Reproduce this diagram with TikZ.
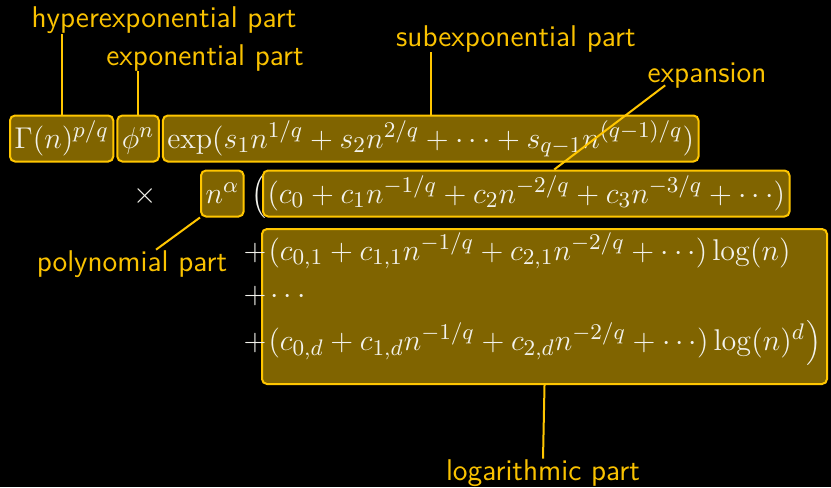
\documentclass[tikz,border=0pt]{standalone}
\usetikzlibrary{positioning,calc}

\definecolor{partline}{RGB}{255,198,0}
\definecolor{partfill}{RGB}{128,100,0}
\definecolor{labelcol}{RGB}{250,194,0}
\definecolor{formulacol}{RGB}{242,242,236}

\tikzset{
  part/.style={draw=partline, fill=partfill, line width=0.8pt, rounded corners=2pt,
               text=formulacol, inner xsep=1.8pt, inner ysep=0pt, anchor=base west,
               text height=13pt, text depth=5.4pt},
  formula/.style={text=formulacol, inner sep=0pt, anchor=base west},
  partlabel/.style={text=labelcol, font=\fontsize{12}{14}\sffamily, inner sep=0pt, anchor=base},
  pointer/.style={draw=partline, line width=0.8pt},
}

\begin{document}
\begin{tikzpicture}[x=0.4pt,y=-0.4pt,font=\fontsize{12.2}{14.5}\selectfont]
  \fill[black] (0,0) rectangle (831,487);
  \useasboundingbox (0,0) rectangle (831,487);

  % first line
  \node[part] (hyper) at (9,148) {$\Gamma(n)^{p/q}$};
  \node[part, right=0.8pt of hyper] (expo) {$\phi^n$};
  \node[part, right=0.8pt of expo] (subexp)
    {$\exp\bigl(s_1n^{1/q}+s_2n^{2/q}+\cdots+s_{q-1}n^{(q-1)/q}\bigr)$};

  % second line
  \node[formula, anchor=base] (times) at (145,203) {$\times$};
  \node[part] (poly) at (200,203) {$n^\alpha$};
  \node[formula, text height=12pt, text depth=7pt] (outeropen) at (251,203) {$\Bigl($};
  \node[part] (expan) at (262,203)
    {$\bigl(c_0+c_1n^{-1/q}+c_2n^{-2/q}+c_3n^{-3/q}+\cdots\bigr)$};

  % logarithmic block
  \node[part, anchor=north west, minimum width=226pt, minimum height=62pt,
        inner sep=0pt, text height=, text depth=] (logpart) at (261,228) {};
  \node[formula] (plusA) at (243,260) {$+$};
  \node[formula] (logrowA) at (268,260)
    {$\bigl(c_{0,1}+c_{1,1}n^{-1/q}+c_{2,1}n^{-2/q}+\cdots\bigr)\log(n)$};
  \node[formula] (plusB) at (243,303) {$+$};
  \node[formula] (logrowB) at (270,303) {$\cdots$};
  \node[formula] (plusC) at (243,350) {$+$};
  \node[formula] (logrowC) at (268,350)
    {$\bigl(c_{0,d}+c_{1,d}n^{-1/q}+c_{2,d}n^{-2/q}+\cdots\bigr)\log(n)^d$};
  \node[formula, text height=12pt, text depth=7pt] (outerclose) at (logrowC.base east) {$\Bigr)$};

  % labels
  \node[partlabel] (hyperlabel) at (164,27) {hyperexponential part};
  \node[partlabel] (expolabel) at (205,65) {exponential part};
  \node[partlabel] (subexplabel) at (516,46) {subexponential part};
  \node[partlabel] (expanlabel) at (707,82) {expansion};
  \node[partlabel] (polylabel) at (132,271) {polynomial part};
  \node[partlabel] (loglabel) at (543,480) {logarithmic part};

  \draw[pointer] (hyper.north) -- (hyper.north |- hyperlabel.south);
  \draw[pointer] (expo.north) -- (expo.north |- expolabel.south);
  \draw[pointer] (subexp.north) -- (subexp.north |- subexplabel.south);
  \draw[pointer] ($(expanlabel.south west)+(18,-3)$) -- ($(expan.north)+(28,0)$);
  \draw[pointer] ($(polylabel.north)+(24,0)$) -- (poly.south west);
  \draw[pointer] (logpart.south) -- (loglabel.north);
\end{tikzpicture}
\end{document}
